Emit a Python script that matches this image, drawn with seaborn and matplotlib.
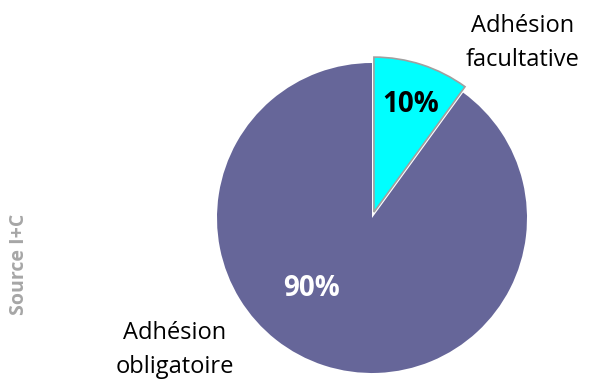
import matplotlib
matplotlib.use("Agg")
import matplotlib.pyplot as plt
import seaborn as sns

categories = ["Adhésion facultative", "Adhésion obligatoire"]
values = [10, 90]
pct_labels = ["10%", "90%"]
colors = ["#00FFFF", "#666699"]
source_text = "Source I+C"

sns.set_theme(style="white")
plt.rcParams['font.family'] = ['Open Sans', 'DejaVu Sans']

fig = plt.figure(figsize=(5.9, 3.79), dpi=100)
cx, cy, r = 372, 218, 155
W, H = 590, 379
ax = fig.add_axes([(cx - r) / W, (H - cy - r) / H, 2 * r / W, 2 * r / H])

wedges, _ = ax.pie(values, colors=colors, startangle=90, counterclock=False,
                   explode=[0.04, 0], radius=1.0,
                   wedgeprops=dict(linewidth=0))
for w in wedges:
    w.set_clip_on(False)
wedges[0].set_edgecolor("#a0a0a0")
wedges[0].set_linewidth(1.2)
ax.set_xlim(-1, 1)
ax.set_ylim(-1, 1)
ax.set_aspect("equal")
ax.axis("off")

def fx(px):
    return px / W
def fy(py):
    return 1 - py / H

fig.text(fx(411), fy(104), pct_labels[0], ha="center", va="center",
         fontsize=20, fontweight="bold", color="black")
fig.text(fx(312), fy(288), pct_labels[1], ha="center", va="center",
         fontsize=20, fontweight="bold", color="white")
fig.text(fx(523), fy(43), categories[0].replace(" ", "\n"), ha="center", va="center",
         fontsize=17, color="black", linespacing=1.6)
fig.text(fx(175), fy(350), categories[1].replace(" ", "\n"), ha="center", va="center",
         fontsize=17, color="black", linespacing=1.6)
fig.text(fx(19), fy(264), source_text, ha="center", va="center", rotation=90,
         fontsize=14, fontweight="bold", color="#a6a6a6")

fig.savefig("out.png", dpi=100)
